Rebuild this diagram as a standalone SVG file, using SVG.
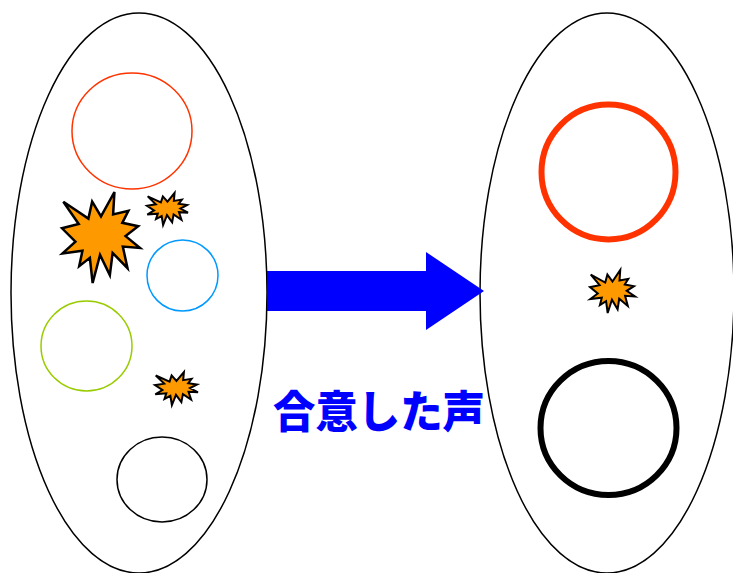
<svg xmlns="http://www.w3.org/2000/svg" xmlns:xlink="http://www.w3.org/1999/xlink" width="733" height="573" viewBox="0 0 733 573">
<style>
.el{fill:none;stroke:#000;stroke-width:1.5}
.boom{fill:#ff9900;stroke:#000}
#boomShape{vector-effect:non-scaling-stroke}
.lbl{font-family:"Noto Sans CJK JP","Noto Sans CJK SC",sans-serif;font-weight:900;fill:#0000ff}
</style>
<defs>
<path id="boomShape" d="M50,26.85 L67.23,0 L65.53,24.65 L85.09,20.63 L77.32,33.87 L97.67,37.67 L81.51,48.5 L100,61.53 L77.95,59.92 L84,83.77 L64.91,66.93 L61.33,91.38 L48.76,69.14 L39.28,100 L35.72,72.35 L22.05,81.56 L26.24,64.52 L0.63,67.53 L17.23,54.51 L0,39.88 L21.42,35.26 L1.71,10.63 L33.85,29.26 L38.67,10.63 Z"/>
</defs>
<rect width="733" height="573" fill="#fff"/>
<g id="left-group">
<ellipse class="el" cx="139" cy="293" rx="128" ry="280"/>
<ellipse cx="132" cy="131" rx="60" ry="58" fill="none" stroke="#ff3300" stroke-width="1.5"/>
<ellipse cx="182.5" cy="275.5" rx="35.5" ry="35.5" fill="none" stroke="#0099ff" stroke-width="1.5"/>
<ellipse cx="86.5" cy="346" rx="45.5" ry="45" fill="none" stroke="#99cc00" stroke-width="1.5"/>
<ellipse cx="162" cy="479.5" rx="45" ry="42.5" fill="none" stroke="#000" stroke-width="1.5"/>
<use xlink:href="#boomShape" class="boom" stroke-width="2.5" transform="translate(62,192) scale(0.78,0.91)"/>
<use xlink:href="#boomShape" class="boom" stroke-width="2" transform="translate(147,193) scale(0.41,0.32)"/>
<use xlink:href="#boomShape" class="boom" stroke-width="2" transform="translate(155,372) scale(0.43,0.33)"/>
</g>
<g id="right-group">
<ellipse class="el" cx="607" cy="293" rx="127" ry="280"/>
<ellipse cx="608.5" cy="172" rx="67" ry="67.5" fill="none" stroke="#ff3300" stroke-width="6"/>
<ellipse cx="608.5" cy="428" rx="68" ry="67" fill="none" stroke="#000" stroke-width="6"/>
<use xlink:href="#boomShape" class="boom" stroke-width="2" transform="translate(590,270) scale(0.45,0.43)"/>
</g>
<g id="connectors">
<path d="M267,271 L426,271 L426,252 L484,291 L426,330 L426,311 L267,311 Z" fill="#0000ff"/>
</g>
<g id="label">
<text class="lbl" x="273" y="428" font-size="44" textLength="212" lengthAdjust="spacingAndGlyphs">合意した声</text>
</g>
</svg>
